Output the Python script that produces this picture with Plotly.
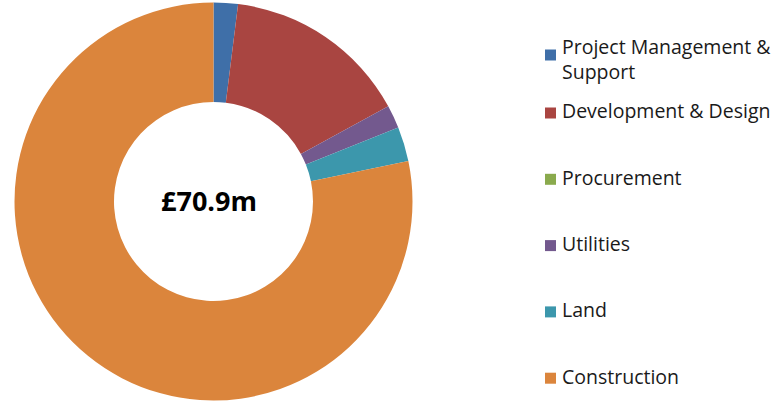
import plotly.graph_objects as go

# Data (in £m)
categories = ["Project Management &<br>Support", "Development & Design", "Procurement",
              "Utilities", "Land", "Construction"]
values = [1.4, 10.7, 0.0, 1.33, 1.99, 55.5]
colors = ["#3F6FA8", "#A94541", "#8AAA4D", "#73598E", "#3C97AC", "#DB853C"]
total_label = "£70.9m"

W, H = 778, 401

fig = go.Figure()
fig.add_trace(go.Pie(
    labels=categories,
    values=values,
    marker=dict(colors=colors, line=dict(width=0)),
    hole=0.5,
    sort=False,
    direction="clockwise",
    rotation=0,
    textinfo="none",
    hoverinfo="label+value",
    showlegend=False,
    domain=dict(x=[14.5 / W, 412.5 / W], y=[1 - 400.5 / H, 1 - 2.5 / H]),
))

# centre label
fig.add_annotation(x=209 / W, y=1 - 200 / H, xref="paper", yref="paper",
                   text="<b>" + total_label + "</b>", showarrow=False,
                   font=dict(family="Open Sans", size=27, color="#000000"),
                   xanchor="center", yanchor="middle")

# manual legend
font_family = "Open Sans"
fsize = 19.5
step = 66.3
for i, (lab, col) in enumerate(zip(categories, colors)):
    cy = 113 + (i - 1) * step if i > 0 else 55
    fig.add_shape(type="rect", xref="paper", yref="paper",
                  x0=545 / W, x1=556 / W, y0=1 - (cy + 5.5) / H, y1=1 - (cy - 5.5) / H,
                  fillcolor=col, line=dict(width=0))
    nlines = len(lab.split("<br>"))
    ty = cy - 2 if nlines == 1 else 59
    fig.add_annotation(x=560 / W, y=1 - ty / H, xref="paper", yref="paper",
                       text=lab, showarrow=False, align="left",
                       font=dict(family=font_family, size=fsize, color="#1a1a1a"),
                       xanchor="left", yanchor="middle")

fig.update_layout(width=W, height=H, margin=dict(l=0, r=0, t=0, b=0),
                  paper_bgcolor="white", plot_bgcolor="white")
fig.write_html("out.html", config={"displayModeBar": False},
               post_script="document.body.style.margin='0';document.body.style.padding='0';")
